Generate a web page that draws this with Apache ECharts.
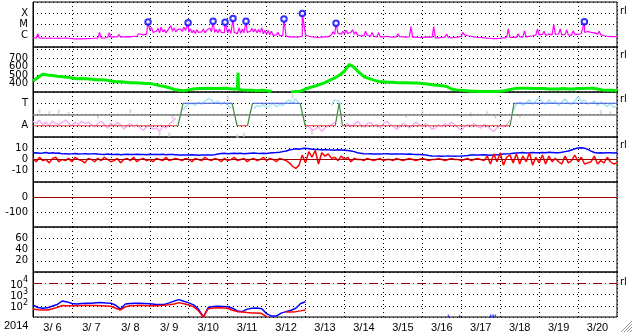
<!DOCTYPE html>
<html><head><meta charset="utf-8">
<script src="https://cdn.jsdelivr.net/npm/echarts@6/dist/echarts.min.js"></script>
<style>html,body{margin:0;padding:0;background:#fff}#c{width:633px;height:334px}</style>
</head><body><div id="c"></div>
<script>
// ---------------- data (hours counted from 2014-03-06 00UT) ----------------
const dayLabels = ['3/ 6','3/ 7','3/ 8','3/ 9','3/10','3/11','3/12','3/13','3/14','3/15','3/16','3/17','3/18','3/19','3/20'];
const yearLabel = '2014';

// X-ray flux, C-class units (1 = C1), every 2 h
const xrayBase = [
 0.7,0.62,0.6,0.62,0.6,0.62,0.6,0.6,0.58,0.6,0.62,0.6,
 0.55,0.53,0.52,0.52,0.55,0.55,0.57,0.6,0.62,0.62,0.65,0.7,
 0.75,0.8,0.8,0.75,0.8,0.85,0.8,0.9,0.85,1.0,1.2,1.4,
 3.0,2.0,2.5,1.8,2.2,1.8,2.0,2.5,2.2,2.6,2.4,3.0,
 2.0,1.8,1.6,2.0,2.2,1.8,2.0,2.2,2.0,1.8,2.0,1.9,
 1.8,1.6,2.0,1.5,1.6,1.8,2.0,2.5,2.2,1.8,2.0,1.5,
 1.3,1.2,1.1,1.2,1.0,1.1,0.9,0.8,0.8,0.75,0.8,0.9,
 1.2,0.9,0.8,0.75,0.7,0.75,0.8,0.8,1.2,1.4,1.6,1.4,
 1.5,1.6,2.0,1.4,1.2,1.0,1.0,1.1,0.9,0.9,0.8,0.8,
 0.8,0.9,0.8,0.75,0.8,0.85,0.8,0.75,0.8,0.75,0.75,0.7,
 0.7,0.75,0.8,0.7,0.65,0.65,0.7,0.75,0.7,0.65,0.7,0.75,
 0.9,1.2,1.0,0.9,0.8,0.7,0.7,0.65,0.6,0.6,0.55,0.55,
 0.6,0.65,0.7,0.7,0.75,0.7,0.8,0.75,0.8,0.9,1.0,1.2,
 1.2,1.3,1.1,1.4,1.2,1.3,1.5,1.2,1.3,1.2,1.1,1.3,
 1.3,1.6,2.0,2.4,2.0,1.8,1.4,1.2,1.0,0.9,0.85,0.85,0.85];
const xraySpikeHours = [3,41,47,53,65,73,75,77,79,81,83,85,87,89,91,93,97,99,101,103,105,107,109,113,115,117,121,125,127,129,133,135,137,139,141,143,145,147,151,185,191,193,197,199,205,209,213,225,233,247,255,265,293,299,303,311,315,321,325,329,333,345,349];
const xraySpikeVals  = [1.5,2.0,1.9,1.3,1.5,5.5,3,4.5,6,3.5,3,8,5,3.5,4,6,4,3,3.5,3,4,3,5,3.5,4,3,4,3,5,4,3,4.5,4,3.5,5,3,3,2.5,2.0,2.2,2.5,3.0,3.5,2.2,2.5,2.0,2.0,1.5,6.5,6.5,1.4,2.0,4.0,1.5,2.8,4.0,2.5,10,4,3.3,2.8,3.0,2.5];
const flareHours = [70.9,95.6,111,118.4,123.3,131.3,154.7,166,186.8,339.9];
const flarePeaks = [16.7,14,19,15.7,35,19,31,93,12.8,17.7];
const xrayTickVals  = [1,10,100];
const xrayTickNames = ['C','M','X'];

// Solar wind speed km/s, every 3 h
const windSpeed = [430,470,510,500,495,485,480,475,465,455,460,455,450,445,445,440,430,420,420,415,
 410,410,405,400,400,390,375,365,350,330,320,315,325,335,340,340,345,340,340,345,
 340,335,335,325,320,320,315,320,315,305,null,300,null,300,305,310,335,355,370,390,
 410,440,465,500,545,625,590,530,480,460,440,425,420,415,415,410,410,410,405,405,
 400,395,385,380,375,365,335,325,320,315,310,310,305,305,305,305,310,315,330,340,
 345,345,345,340,340,340,335,335,335,340,335,335,340,340,345,345,335,325,320,320,315];
const windSpikeHours = [126.1,126.4,126.7];
const windSpikeVals  = [335,525,330];
const speedTickVals = [400,500,600,700];

// IMF sector (T = +1, A = -1)
const sectorHours = [0,89.4,92.5,122.7,125.8,132.2,135.3,164.7,167.8,186.3,188.7,190.8,294.1,296.5,360];
const sectorVals  = [-1,-1,1,1,-1,-1,1,1,-1,-1,1,-1,-1,1,1];
const awaySegStart = [0,168,192];
const awaySegVals = [
 [-0.6,-0.8,-0.5,-0.9,-0.7,-1.0,-0.6,-0.8,-0.9,-0.7,-0.5,-0.8,-1.0,-0.7,-0.9,-0.6,-0.8,-0.7,-0.9,-1.1,-0.8,-0.6,-0.9,-1.2,-0.8,-1.0,-0.7,-0.9,-1.3,-1.0,-0.8,-1.1,-0.9,-1.2,-1.4,-1.1,-1.0,-1.3,-1.2,-1.5,-1.1,-1.2,-0.9,-0.6,-0.3],
 [-1.2,-1.0,-1.4,-1.3,-1.1,-1.5,-1.2,-1.0,-0.9,-0.7],
 [-1.0,-0.8,-1.1,-0.9,-0.6,-0.9,-1.1,-0.8,-0.7,-1.0,-0.9,-1.2,-0.8,-0.6,-0.9,-1.0,-1.3,-1.1,-0.8,-0.9,-1.2,-1.0,-0.7,-0.9,-1.1,-0.8,-1.0,-1.3,-1.2,-0.9,-1.1,-0.8,-1.0,-0.7,-0.9,-1.2,-1.4,-1.1,-0.9,-1.0,-0.8,-1.1,-1.2,-0.9,-1.0,-1.3,-1.5,-1.2,-1.0,-1.1,-0.9,-0.5]];
const towardSegStart = [92,136,184,296];
const towardSegVals = [
 [0.4,0.7,0.9,1.0,0.8,1.1,0.9,1.2,1.4,1.3,1.0,1.2,0.9,1.1,0.8,0.6],
 [0.5,0.8,0.7,0.9,0.6,0.8,1.0,0.7,0.9,0.8,1.1,1.3,1.0,1.4,0.9],
 [0.8,1.3,1.2,0.9],
 [0.3,0.9,1.1,0.8,1.0,1.3,0.9,1.2,1.5,1.1,0.9,1.3,1.0,1.2,0.8,1.1,1.4,1.0,0.9,1.2,1.6,1.1,1.3,0.9,1.0,1.2,0.8,1.1,0.9,0.7,1.0,0.6,0.8]];
const otherHours = [4,10,16,22,40,60,78,84,86,120,126,130,160,172,230,240,270,280,285,300,350,356];
const otherVals  = [0.3,0.1,0.25,0.05,-0.2,0.3,-1.7,-1.8,-0.2,1.5,-1.9,-1.8,1.6,-1.6,-0.1,0.2,0.0,0.1,-0.2,-0.1,0.2,0.1];

// IMF Bt (blue) and Bz (red), nT, every 2 h
const btVals = [5.8,6.0,5.5,5.8,6.2,5.6,5.9,5.5,5.7,
 5.0,5.2,4.9,5.0,5.3,4.8,5.0,5.1,4.9,5.0,5.2,4.8,
 4.6,4.5,4.8,4.4,4.5,4.6,4.3,4.5,4.7,4.4,4.5,4.6,4.4,4.5,4.3,4.6,4.5,4.4,4.5,4.6,4.3,4.5,4.4,4.2,
 4.0,4.1,3.9,4.0,4.2,4.0,3.8,4.0,4.1,4.0,3.9,4.3,4.8,
 5.3,5.5,5.2,5.4,5.6,5.3,5.5,5.2,5.4,5.6,5.8,5.5,5.3,5.6,5.4,5.7,6.0,6.2,6.5,7.0,7.5,
 8.5,9.0,9.5,9.2,9.8,10.0,9.5,9.2,8.8,9.0,8.5,8.8,8.6,
 8.5,8.3,8.6,8.4,8.2,8.0,7.5,7.0,6.0,
 5.5,5.2,5.0,5.1,4.9,5.0,4.8,5.0,5.2,4.9,5.0,4.8,4.9,5.0,4.7,4.8,4.6,4.5,4.4,4.2,4.0,
 3.5,3.2,3.0,3.1,2.9,3.0,3.2,3.0,2.8,3.0,3.1,3.3,3.6,
 4.0,4.1,3.9,4.0,4.2,4.0,3.8,4.1,4.3,4.5,4.8,5.0,5.2,5.5,5.8,
 6.0,6.2,5.8,6.0,6.3,6.1,5.9,6.2,6.0,6.4,6.2,6.0,6.1,6.5,7.0,7.5,8.5,
 9.5,10.2,10.5,10.0,9.0,7.5,
 6.2,5.8,6.0,5.7,5.9,6.1,5.8,6.0];
const bzVals = [1,-2,2,-1,0,-3,1,2,-2,0,-1,1,-2,2,0,-1,-3,1,0,-2,1,-1,2,0,-2,-1,1,-3,0,1,-1,2,-2,0,1,-1,0,-2,1,0,-1,2,-1,0,1,
 0,-1,1,0,-2,1,0,-1,2,0,-1,1,0,-2,1,-1,0,2,-1,0,1,-2,0,1,-1,0,2,-1,1,0,-2,1,0,-1,
 -3,-6,-8,-5,
 4,-3,7,2,8,-4,6,3,5,1,
 2,-1,3,0,2,-2,1,0,
 0,-1,1,0,-1,0,1,-1,0,0,-1,1,0,-1,0,1,0,-1,0,1,0,-1,0,0,1,0,-1,0,1,0,0,-1,0,1,-1,0,1,0,-1,
 3,-4,5,-2,6,-5,2,4,-3,5,-4,3,-2,6,-5,2,-3,4,-4,3,-2,1,
 -2,-4,3,-3,-1,4,-2,2,-4,-3,-2,3,-4,-1,-3,2,-2,-4,-3];
const bTickVals = [-10,0,10];
const dstTickVals = [-100,0];
const kpTickVals = [20,40,60];

// particle flux (log), every 3 h up to 3/13 00UT
const fluxBlue = [117,70,59,65,95,130,265,220,160,140,160,170,165,185,195,180,170,110,51,145,
 160,165,170,160,150,135,130,130,180,260,350,250,180,120,50,10,70,85,90,85,
 80,60,35,30,50,60,62,55,20,12,12,22,30,40,60,160,230];
const fluxRed = [51,45,42,42,55,72,105,100,100,98,105,110,105,105,100,95,90,60,42,80,
 100,105,108,105,100,100,105,110,120,145,190,150,115,80,36,10,55,63,65,63,
 60,40,30,28,25,23,23,20,11,null,null,null,28,28,30,35,42];
const lateBlueHours = [256,263,282,283,284,285];
const lateBlueVals  = [12,11,12,12.5,12.5,12];
const fluxTickExp = [2,3,4];
const fluxAlert = 10000;

// ---------------- chart ----------------
const FONT_Y = 'DejaVu Sans', FONT_X = 'Liberation Sans';
const tops = [2,47,92,137,182,227,272];
const PH = 45;

function seq(vals, step, start){ start = start||0; return vals.map((v,i)=>[start+i*step, v]); }
function withExtras(vals, step, hours, extra){
  const pts = seq(vals, step).concat(hours.map((h,i)=>[h, extra[i]]));
  pts.sort((a,b)=>a[0]-b[0]); return pts;
}
function segs(starts, valsList){
  let out=[];
  starts.forEach((s,k)=>{ out = out.concat(seq(valsList[k],2,s)); out.push([s+valsList[k].length*2-1,null]); });
  return out;
}
const xrayData = withExtras(xrayBase, 2, xraySpikeHours.concat(flareHours), xraySpikeVals.concat(flarePeaks));
const flareData = flareHours.map((h,i)=>[h, flarePeaks[i]]);
const windData = withExtras(windSpeed, 3, windSpikeHours, windSpikeVals);
const secRed=[], secBlue=[], secGreen=[];
for (let i=0;i<sectorHours.length-1;i++){
  const a=[sectorHours[i],sectorVals[i]], b=[sectorHours[i+1],sectorVals[i+1]];
  const t = (a[1]===b[1]) ? (a[1]<0?secRed:secBlue) : secGreen;
  t.push(a,b,[b[0],null]);
}

const grids = tops.map(t=>({left:33, width:584, top:t, height:PH, show:true, borderColor:'#000', borderWidth:1, backgroundColor:'transparent'}));
const dotted = {show:true, lineStyle:{color:'#000', type:[1,3], width:1}};
const xAxes = tops.map((t,i)=>({type:'value', gridIndex:i, min:0, max:360, interval:24, position:'top',
  axisLabel:{show:false}, axisTick:{show:false}, axisLine:{show:false}, splitLine:dotted}));
xAxes.push({type:'category', gridIndex:6, position:'bottom', data:dayLabels, boundaryGap:true,
  axisLine:{show:false}, axisTick:{show:false}, splitLine:{show:false},
  axisLabel:{interval:0, fontFamily:FONT_X, fontSize:11, color:'#000', margin:5}});

function yBase(i, extra){
  return Object.assign({gridIndex:i, axisTick:{show:false}, axisLine:{show:true, lineStyle:{color:'#000', width:1}},
    splitLine:dotted, axisLabel:{fontFamily:FONT_Y, fontSize:10, color:'#000', margin:5, showMinLabel:true, showMaxLabel:true}}, extra);
}
function pick(list, names){ return v => { const k = list.findIndex(x=>Math.abs(x-v)<1e-6*Math.max(1,Math.abs(x))); return k<0?'':(names?names[k]:String(list[k])); }; }
const yAxes = [
  yBase(0,{type:'log', logBase:10, min:0.1, max:1000}),
  yBase(1,{type:'value', min:300, max:830, interval:100}),
  yBase(2,{type:'value', min:-2, max:2, interval:1}),
  yBase(3,{type:'value', min:-20, max:20, interval:10}),
  yBase(4,{type:'value', min:-200, max:100, interval:100}),
  yBase(5,{type:'value', min:0, max:80, interval:20}),
  yBase(6,{type:'log', logBase:10, min:10, max:100000})
];
yAxes[0].axisLabel.formatter = v => { const e=Math.round(Math.log10(v)); const k=xrayTickVals.findIndex(x=>Math.round(Math.log10(x))===e); return k<0?'':xrayTickNames[k]; };
yAxes[1].axisLabel.formatter = pick(speedTickVals);
yAxes[2].axisLabel.formatter = pick([1,-1],['T','A']);
yAxes[3].axisLabel.formatter = pick(bTickVals);
yAxes[4].axisLabel.formatter = pick(dstTickVals);
yAxes[5].axisLabel.formatter = pick(kpTickVals);
yAxes[6].axisLabel.formatter = v => { const e=Math.round(Math.log10(v)); return fluxTickExp.indexOf(e)<0?'':'{b|10}{s|'+e+'}'; };
yAxes[6].axisLabel.rich = {b:{fontFamily:FONT_Y, fontSize:10, color:'#000', lineHeight:14, verticalAlign:'bottom'}, s:{fontFamily:FONT_Y, fontSize:8, color:'#000', lineHeight:14, verticalAlign:'top'}};

function ml(color, value, type, width){
  return {silent:true, symbol:['none','none'], label:{show:false}, animation:false,
    lineStyle:{color:color, width:width||1, type:type||'solid'}, data:[{yAxis:value}]};
}
const L = (i, data, color, w, extra) => Object.assign({type:'line', xAxisIndex:i, yAxisIndex:i, data:data, showSymbol:false, symbol:'none',
  lineStyle:{color:color, width:w}, itemStyle:{color:color}, connectNulls:false, clip:true, animation:false}, extra||{});

const series = [
  L(0, xrayData, '#ff00ff', 1.2),
  {type:'scatter', xAxisIndex:0, yAxisIndex:0, data:flareData, symbol:'emptyCircle', symbolSize:5.5,
   itemStyle:{color:'#0000ff', borderColor:'#0000ff', borderWidth:1.2}, animation:false, z:5},
  L(1, windData, '#00ee00', 3),
  L(2, [], '#808080', 1, {markLine: ml('#808080', 0, 'solid', 1.5)}),
  L(2, segs(awaySegStart, awaySegVals), '#f5b0f5', 1.5),
  L(2, segs(towardSegStart, towardSegVals), '#a8e4f8', 1.5),
  {type:'scatter', xAxisIndex:2, yAxisIndex:2, data:otherHours.map((h,i)=>[h,otherVals[i]]), symbol:'rect', symbolSize:[2,4], itemStyle:{color:'#d0d0d0'}, animation:false},
  L(2, secRed, '#e03c3c', 1.2),
  L(2, secBlue, '#3c5ae6', 1.2),
  L(2, secGreen, '#3c8c3c', 1.2),
  L(3, seq(btVals,2), '#0000ff', 1.5),
  L(3, seq(bzVals,2), '#ff0000', 1.5, {markLine: ml('#a00000', 0, 'solid', 1)}),
  L(4, [], '#a00000', 1, {markLine: ml('#a00000', 0, 'solid', 1.2)}),
  L(6, [], '#a00000', 1, {markLine: ml('#a00000', fluxAlert, [9,3,1,3], 1.2)}),
  L(6, seq(fluxBlue,3), '#0000ff', 1.5),
  L(6, seq(fluxRed,3), '#ff0000', 1.5),
  {type:'scatter', xAxisIndex:6, yAxisIndex:6, data:lateBlueHours.map((h,i)=>[h,lateBlueVals[i]]), symbol:'rect', symbolSize:[1,3], itemStyle:{color:'#0000ff'}, animation:false}
];

const rlY = [12,56,100,146,283];
const graphics = rlY.map(y=>({type:'text', left:620, top:y-6, style:{text:'rl', font:'10px "DejaVu Sans"', fill:'#000'}, silent:true}));
graphics.push({type:'text', left:4, top:320, style:{text:yearLabel, font:'11px "Liberation Sans"', fill:'#000'}});
[0,1,2,3].forEach(k=>graphics.push({type:'line', shape:{x1:632, y1:321+k*3, x2:621+k*3, y2:332}, style:{stroke:'#9a9a9a', lineWidth:1}}));

const chart = echarts.init(document.getElementById('c'), null, {renderer:'canvas'});
chart.setOption({animation:false, backgroundColor:'#fff', grid:grids, xAxis:xAxes, yAxis:yAxes, series:series, graphic:graphics});
</script>
</body></html>
